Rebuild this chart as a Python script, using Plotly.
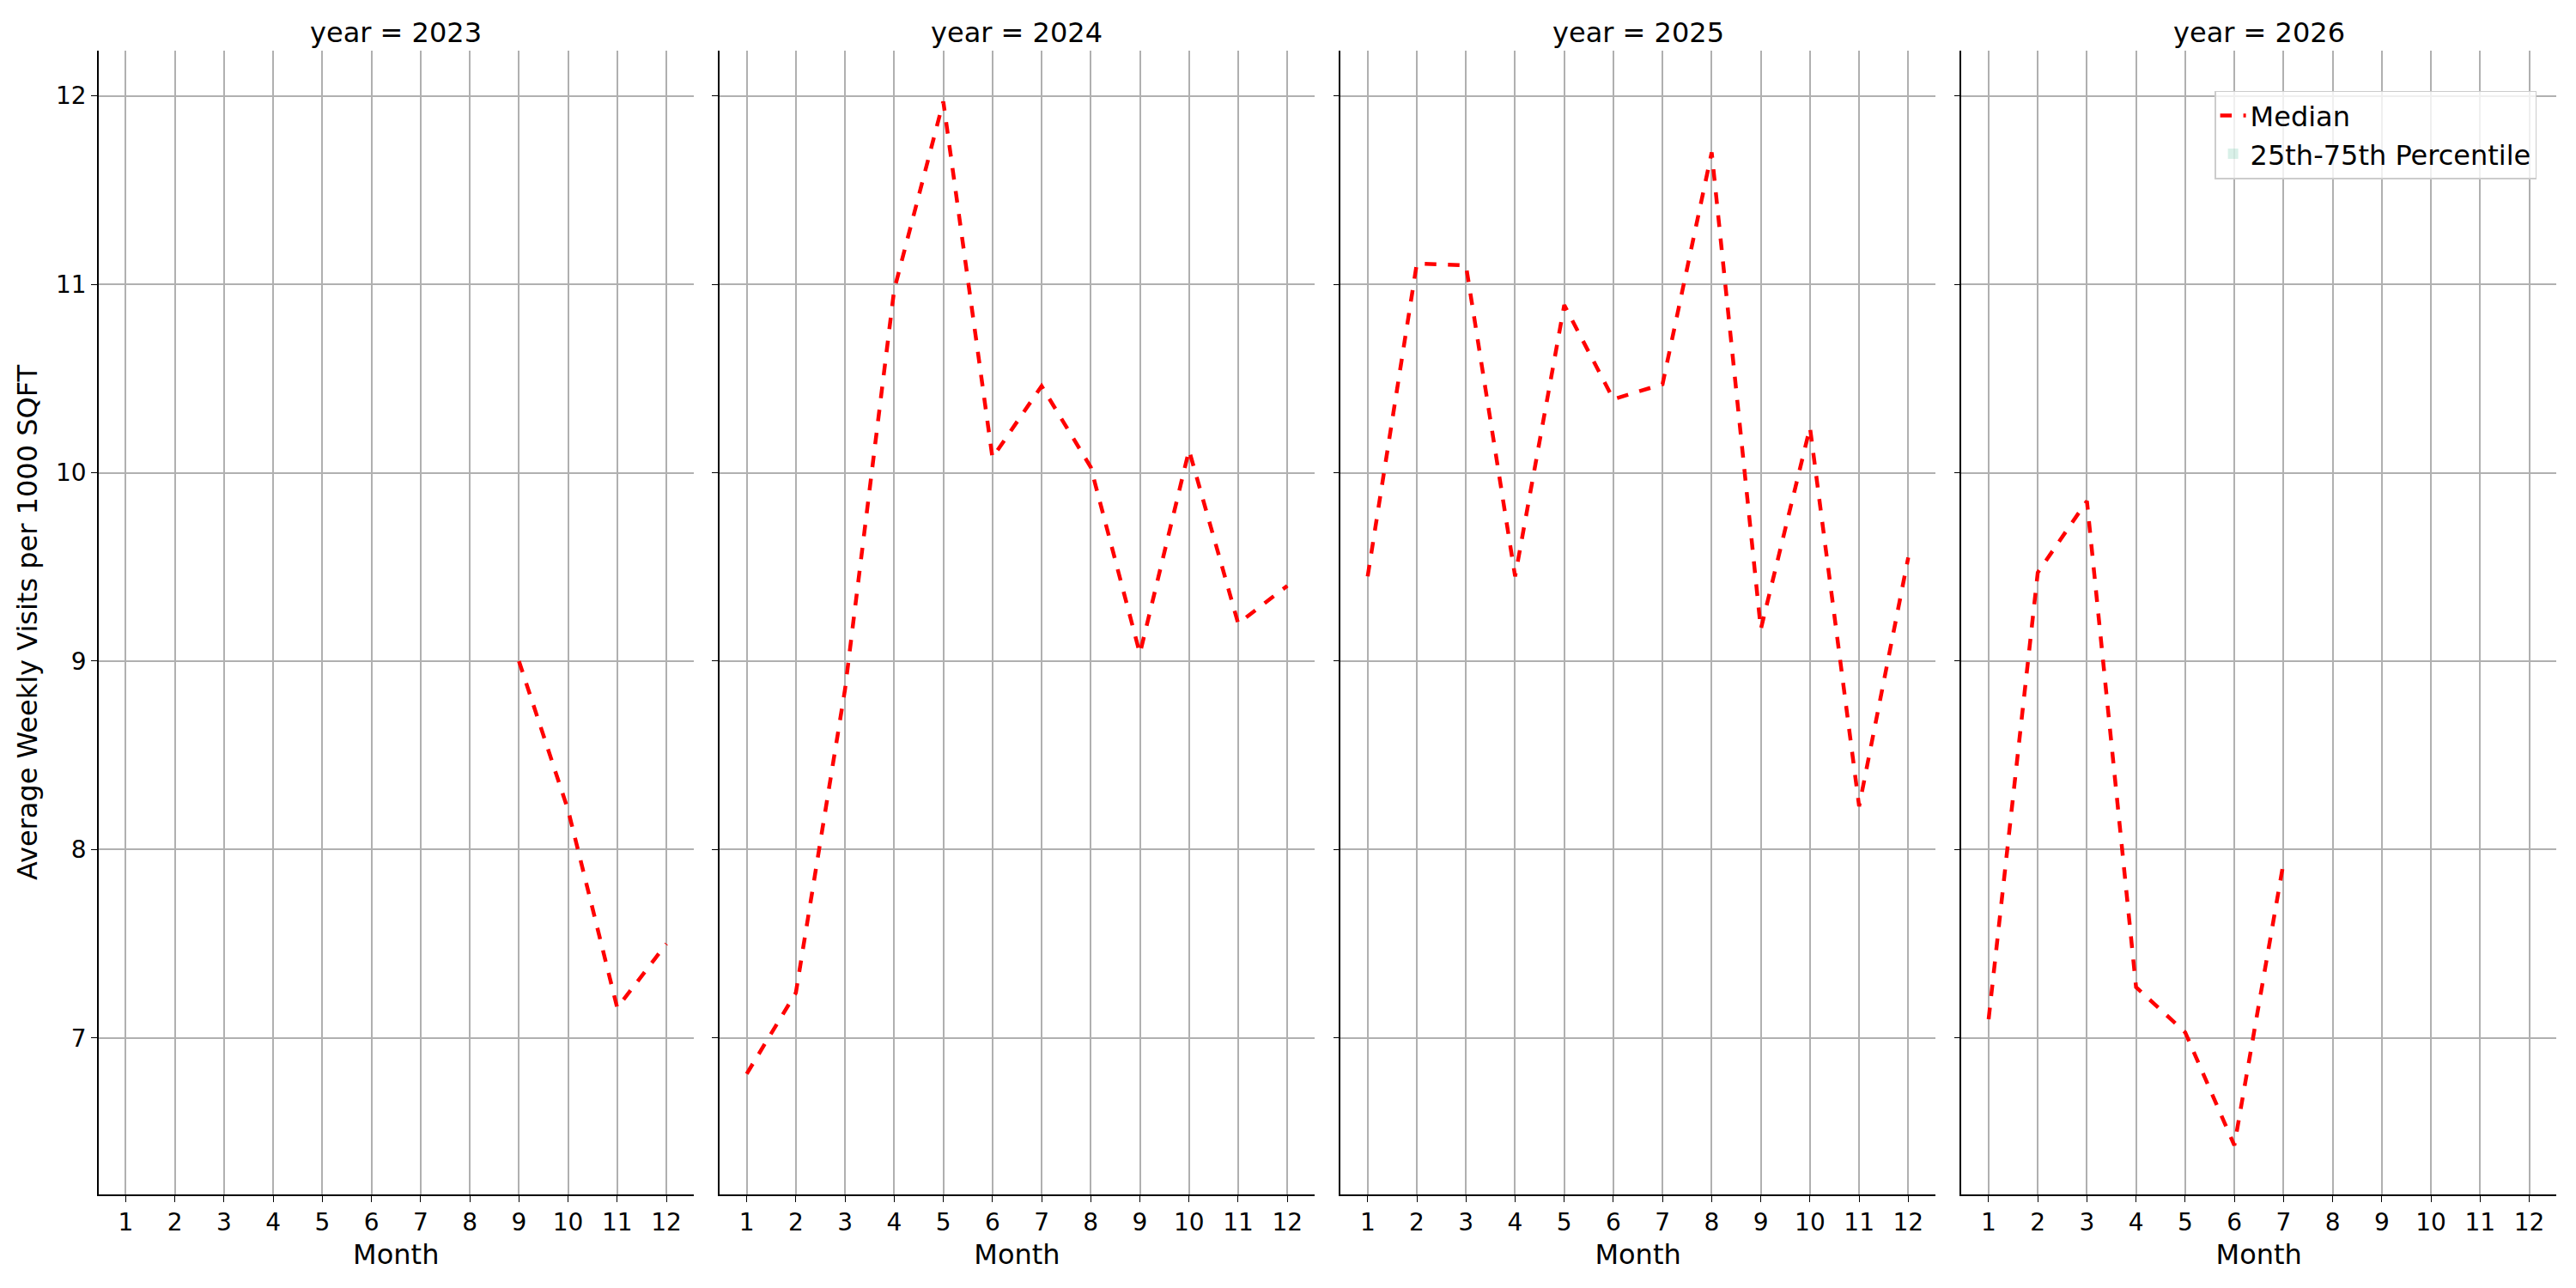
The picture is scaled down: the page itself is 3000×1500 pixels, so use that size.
import plotly.graph_objects as go
from plotly.subplots import make_subplots

years = [2023, 2024, 2025, 2026]
months_2023 = [9, 10, 11, 12]
median_2023 = [9.0, 8.21, 7.16, 7.50]
months_2024 = list(range(1, 13))
median_2024 = [6.81, 7.24, 8.85, 10.97, 11.97, 10.08, 10.46, 10.03, 9.04, 10.12, 9.2, 9.4]
months_2025 = list(range(1, 13))
median_2025 = [9.45, 11.11, 11.1, 9.45, 10.89, 10.39, 10.47, 11.7, 9.17, 10.24, 8.23, 9.55]
months_2026 = [1, 2, 3, 4, 5, 6, 7]
median_2026 = [7.1, 9.47, 9.85, 7.27, 7.03, 6.43, 7.93]

data = [(months_2023, median_2023), (months_2024, median_2024),
        (months_2025, median_2025), (months_2026, median_2026)]

FONT = "DejaVu Sans"
fig = make_subplots(rows=1, cols=4, shared_yaxes=True, horizontal_spacing=0.0107,
                    subplot_titles=[f"year = {y}" for y in years])

for i, (mx, my) in enumerate(data):
    fig.add_trace(go.Scatter(x=mx, y=my, mode="lines", name="Median",
                             line=dict(color="red", width=4.5, dash="dash"),
                             showlegend=(i == 3)), row=1, col=i + 1)
fig.add_trace(go.Bar(x=[None], y=[None], marker=dict(color="rgba(102,194,165,0.25)", line=dict(width=0)),
                     name="25th-75th Percentile"), row=1, col=4)

for i in range(1, 5):
    fig.update_xaxes(row=1, col=i, range=[0.45, 12.55], tickmode="array",
                     tickvals=list(range(1, 13)), showgrid=True, gridcolor="#b0b0b0",
                     gridwidth=1.5, showline=True, linecolor="black", linewidth=1.5,
                     ticks="outside", ticklen=7, tickcolor="black",
                     tickfont=dict(size=28, family=FONT, color="black"),
                     title=dict(text="Month", font=dict(size=32, family=FONT, color="black"), standoff=10),
                     zeroline=False)
    fig.update_yaxes(row=1, col=i, range=[6.17, 12.24], tickvals=[7, 8, 9, 10, 11, 12],
                     showgrid=True, gridcolor="#b0b0b0", gridwidth=1.5, showline=True,
                     linecolor="black", linewidth=1.5, ticks="outside", ticklen=7,
                     tickcolor="black", tickfont=dict(size=28, family=FONT, color="black"),
                     zeroline=False, showticklabels=(i == 1))
fig.update_yaxes(row=1, col=1, title=dict(text="Average Weekly Visits per 1000 SQFT",
                 font=dict(size=32, family=FONT, color="black"), standoff=12))

fig.update_annotations(font=dict(size=32, family=FONT, color="black"))

fig.update_layout(width=3000, height=1500, plot_bgcolor="white", paper_bgcolor="white",
                  margin=dict(l=107, r=31, t=51, b=117), font=dict(family=FONT),
                  legend=dict(x=0.992, y=0.965, xanchor="right", yanchor="top",
                              bgcolor="rgba(255,255,255,0.8)", bordercolor="#cccccc",
                              borderwidth=1.5, font=dict(size=32, family=FONT, color="black")))

fig.write_html("out.html")
